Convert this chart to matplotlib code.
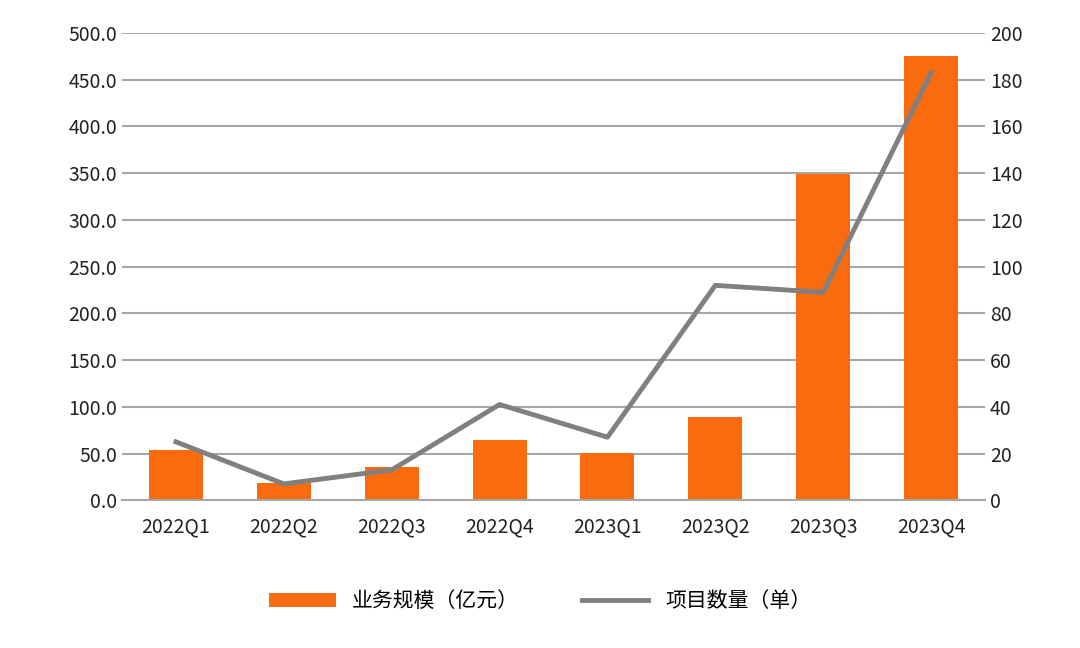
import matplotlib.pyplot as plt
from matplotlib import font_manager
import numpy as np

# pick up whatever CJK font is installed
cjk = [f for f in font_manager.fontManager.ttflist if "CJK" in f.name]
names = [f.name for f in cjk if "SC" in f.name] + [f.name for f in cjk]
plt.rcParams['font.family'] = 'sans-serif'
plt.rcParams['font.sans-serif'] = names + ['Noto Sans CJK SC', 'DejaVu Sans']

quarters = ["2022Q1", "2022Q2", "2022Q3", "2022Q4", "2023Q1", "2023Q2", "2023Q3", "2023Q4"]
scale = [54, 19, 36, 64, 51, 89, 349, 475]       # 业务规模（亿元）
projects = [25, 7, 13, 41, 27, 92, 89, 183]      # 项目数量（单）

fig = plt.figure(figsize=(10.8, 6.48), dpi=100)
ax = fig.add_axes([0.113, 0.228, 0.799, 0.721])
ax2 = ax.twinx()

x = np.arange(len(quarters))
bars = ax.bar(x, scale, width=0.5, color="#F96B0E", zorder=2)
line, = ax2.plot(x, projects, color="#808080", lw=3.5, zorder=3)

ax.set_ylim(0, 500)
ax.set_yticks(np.arange(0, 501, 50))
ax.set_yticklabels([f"{v:.1f}" for v in np.arange(0, 501, 50)])
ax2.set_ylim(0, 200)
ax2.set_yticks(np.arange(0, 201, 20))
ax.set_xlim(-0.5, len(quarters) - 0.5)
ax.set_xticks(x)
ax.set_xticklabels(quarters)
ax.grid(axis="y", color="#A6A6A6", lw=1.5, zorder=0)
ax.set_axisbelow(True)

for a in (ax, ax2):
    for s in a.spines.values():
        s.set_visible(False)
    a.tick_params(length=0, labelsize=14, colors="#222222")
ax.tick_params(axis="x", pad=12)
ax.spines["bottom"].set_visible(True)
ax.spines["bottom"].set_color("#A6A6A6")
ax.spines["bottom"].set_linewidth(1.5)

fig.legend([bars, line], ["业务规模（亿元）", "项目数量（单）"], loc="center",
           bbox_to_anchor=(0.5, 0.072), ncol=2, frameon=False, fontsize=15,
           handlelength=3.2, columnspacing=3)

fig.savefig("out.png", dpi=100, facecolor="white")
